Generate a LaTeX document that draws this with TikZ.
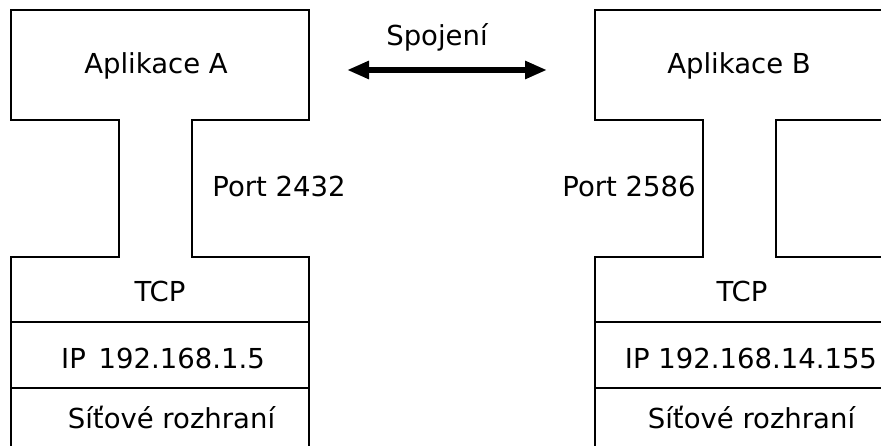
\documentclass[tikz,border=0pt]{standalone}
\usepackage{fontspec}
\setmainfont{DejaVu Sans}
\usetikzlibrary{arrows.meta}
\begin{document}
\begin{tikzpicture}[x=1pt,y=-1pt,
  outline/.style={line width=1.2pt,line join=miter},
  lbl/.style={anchor=base,inner sep=0pt,font=\fontsize{27.5}{33}\selectfont},
  conn/.style={line width=5.5pt,{Triangle[length=22pt,width=17pt]}-{Triangle[length=22pt,width=17pt]}}]
\useasboundingbox (0,0) rectangle (881,446);
\clip (0,0) rectangle (881,446);
% left stack
\draw[outline] (11,10) -- (309,10) -- (309,120) -- (192,120) -- (192,257) -- (309,257) -- (309,470)
  -- (11,470) -- (11,257) -- (119,257) -- (119,120) -- (11,120) -- cycle;
\draw[outline] (11,322) -- (309,322);
\draw[outline] (11,388) -- (309,388);
% right stack
\draw[outline] (900,10) -- (595,10) -- (595,120) -- (703,120) -- (703,257) -- (595,257) -- (595,470);
\draw[outline] (900,120) -- (776,120) -- (776,257) -- (900,257);
\draw[outline] (595,322) -- (900,322);
\draw[outline] (595,388) -- (900,388);
% labels
\node[lbl] (appA) at (156,74) {Aplikace A};
\node[lbl] (portA) at (279,197) {Port 2432};
\node[lbl] (tcpA) at (160,302) {TCP};
\node[lbl] (ipA) at (163,368) {IP\hspace{4pt} 192.168.1.5};
\node[lbl] (netA) at (171.5,428) {Síťové rozhraní};
\node[lbl] (appB) at (739,74) {Aplikace B};
\node[lbl] (portB) at (629,197) {Port 2586};
\node[lbl] (tcpB) at (742,302) {TCP};
\node[lbl] (ipB) at (751,368) {IP 192.168.14.155};
\node[lbl] (netB) at (751.5,428) {Síťové rozhraní};
\node[lbl] (conn) at (437,46) {Spojení};
% connection arrow
\coordinate (cl) at (347,70);
\coordinate (cr) at (547,70);
\draw[conn] (cl) -- (cr);
\end{tikzpicture}
\end{document}
